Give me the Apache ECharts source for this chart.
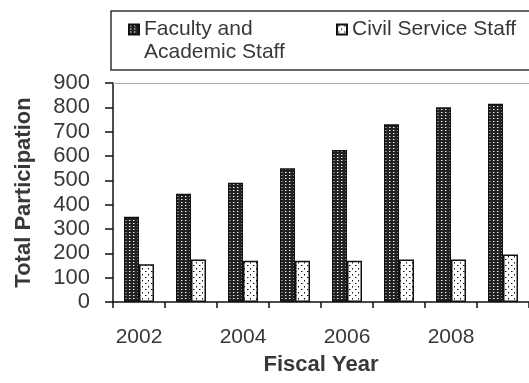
<!DOCTYPE html>
<html>
<head>
<meta charset="utf-8">
<script src="https://cdn.jsdelivr.net/npm/echarts@6/dist/echarts.min.js"></script>
<style>
  html, body { margin: 0; padding: 0; background: #fff; }
  #chart { width: 529px; height: 383px; }
</style>
</head>
<body>
<div id="chart"></div>
<script>
// Participation by fiscal year
const years = ['2002', '2003', '2004', '2005', '2006', '2007', '2008', '2009'];
const facultyStaff = [350, 445, 490, 550, 625, 730, 800, 815];
const civilStaff = [155, 175, 170, 170, 170, 175, 175, 195];
const yMin = 0;
const yMax = 900;
const yStep = 100;

const FONT = '"Liberation Sans", Arial, Helvetica, sans-serif';
const TEXT = '#383838';
const INK = '#111';

// Small repeating tiles used as bar fills
function makeTile(w, h, bg, dots) {
  const c = document.createElement('canvas');
  c.width = w; c.height = h;
  const g = c.getContext('2d');
  g.fillStyle = bg;
  g.fillRect(0, 0, w, h);
  dots.forEach(([x, y, dw, dh, col]) => { g.fillStyle = col; g.fillRect(x, y, dw, dh); });
  return c;
}
// dark fill with a grid of white dots
const denseTile = makeTile(4, 3, '#222', [[1, 1, 1, 1, '#ffffff'], [2, 1, 1, 1, '#7a7a7a']]);
// white fill with scattered black dots
const sparseTile = makeTile(6, 6, '#ffffff', [
  [1, 1, 1, 1, '#111'], [2, 1, 1, 1, '#888'],
  [4, 4, 1, 1, '#111'], [4, 5, 1, 1, '#888']
]);

const chart = echarts.init(document.getElementById('chart'));

chart.setOption({
  animation: false,
  textStyle: { fontFamily: FONT },
  grid: { left: 113, top: 83, width: 421, bottom: 81, containLabel: false },
  graphic: [{
    type: 'rect',
    z: 0,
    shape: { x: 111, y: 11, width: 440, height: 59 },
    style: { fill: 'none', stroke: '#333', lineWidth: 1.5 }
  }],
  legend: [
    {
      data: ['Faculty and Academic Staff'],
      left: 128, top: -5, padding: 0,
      icon: 'rect', itemWidth: 10, itemHeight: 10,
      formatter: () => '\nFaculty and\nAcademic Staff',
      textStyle: { fontFamily: FONT, fontSize: 21, color: TEXT, lineHeight: 23 }
    },
    {
      data: ['Civil Service Staff'],
      left: 336, top: 18, padding: 0,
      icon: 'rect', itemWidth: 10, itemHeight: 10,
      textStyle: { fontFamily: FONT, fontSize: 21, color: TEXT, lineHeight: 23 }
    }
  ],
  xAxis: [
    {
      type: 'category',
      data: years,
      axisLine: { lineStyle: { color: INK, width: 1.5 } },
      axisTick: { show: true, interval: 0, length: 6, lineStyle: { color: INK, width: 1.5 } },
      axisLabel: { interval: 1, fontSize: 21, color: TEXT, margin: 25, fontFamily: FONT },
      name: 'Fiscal Year',
      nameLocation: 'middle',
      nameGap: 52,
      nameTextStyle: { fontSize: 22, fontWeight: 'bold', color: TEXT, fontFamily: FONT }
    },
    {
      type: 'category',
      data: years,
      position: 'top',
      axisLine: { lineStyle: { color: '#aaa', width: 1 } },
      axisTick: { show: false },
      axisLabel: { show: false }
    }
  ],
  yAxis: {
    type: 'value',
    min: yMin, max: yMax, interval: yStep,
    axisLine: { show: true, lineStyle: { color: INK, width: 1.5 } },
    axisTick: { show: true, length: 8, lineStyle: { color: INK, width: 1.5 } },
    splitLine: { show: false },
    axisLabel: { fontSize: 22, color: TEXT, margin: 23, fontFamily: FONT },
    name: 'Total Participation',
    nameLocation: 'middle',
    nameGap: 78,
    nameTextStyle: { fontSize: 22, fontWeight: 'bold', color: TEXT, fontFamily: FONT }
  },
  series: [
    {
      name: 'Faculty and Academic Staff',
      type: 'bar',
      data: facultyStaff,
      barWidth: 15,
      barGap: '0%',
      itemStyle: { color: { image: denseTile, repeat: 'repeat' }, borderColor: INK, borderWidth: 1.5 }
    },
    {
      name: 'Civil Service Staff',
      type: 'bar',
      data: civilStaff,
      barWidth: 15,
      barGap: '0%',
      itemStyle: { color: { image: sparseTile, repeat: 'repeat' }, borderColor: INK, borderWidth: 1.5 }
    }
  ]
});
</script>
</body>
</html>
